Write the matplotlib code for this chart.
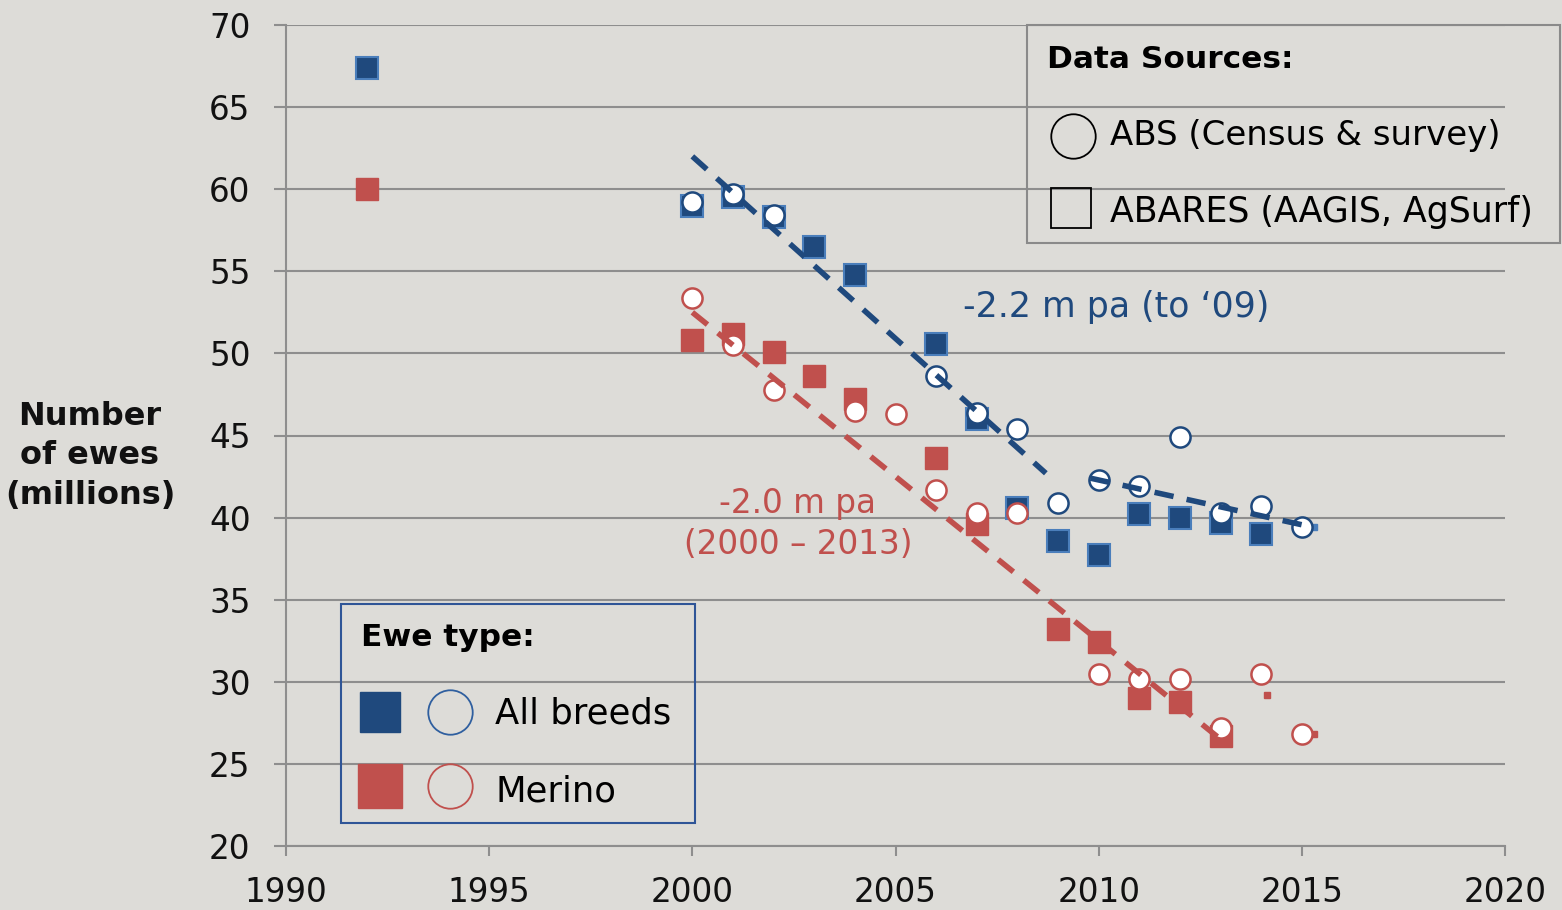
import matplotlib
matplotlib.use("Agg")
from matplotlib import pyplot as plt
from matplotlib.lines import Line2D
import numpy as np

# ABARES (squares)
all_sq_years = [1992, 2000, 2001, 2002, 2003, 2004, 2006, 2007, 2008, 2009, 2010, 2011, 2012, 2013, 2014]
all_sq_vals = [67.4, 59.0, 59.5, 58.3, 56.5, 54.8, 50.6, 46.0, 40.6, 38.6, 37.7, 40.2, 40.0, 39.7, 39.0]
mer_sq_years = [1992, 2000, 2001, 2002, 2003, 2004, 2006, 2007, 2009, 2010, 2011, 2012, 2013]
mer_sq_vals = [60.0, 50.8, 51.2, 50.1, 48.6, 47.2, 43.6, 39.6, 33.2, 32.4, 29.0, 28.8, 26.7]

# ABS (circles)
all_ci_years = [2000, 2001, 2002, 2006, 2007, 2008, 2009, 2010, 2011, 2012, 2013, 2014, 2015]
all_ci_vals = [59.2, 59.7, 58.4, 48.6, 46.4, 45.4, 40.9, 42.3, 41.9, 44.9, 40.3, 40.7, 39.4]
mer_ci_years = [2000, 2001, 2002, 2004, 2005, 2006, 2007, 2008, 2010, 2011, 2012, 2013, 2014, 2015]
mer_ci_vals = [53.4, 50.5, 47.8, 46.5, 46.3, 41.7, 40.3, 40.3, 30.5, 30.2, 30.2, 27.2, 30.5, 26.8]

# small stray markers
tiny_years = [2014.15, 2015.3]
tiny_mer_vals = [29.2, 26.8]
tiny_all_years = [2015.3]
tiny_all_vals = [39.4]

# trend lines
trend_all_a_years = [2000, 2008.7]
trend_all_a_vals = [62.0, 42.7]
trend_all_b_years = [2009.8, 2015.3]
trend_all_b_vals = [42.4, 39.4]
trend_mer_years = [2000, 2013.1]
trend_mer_vals = [52.5, 26.3]

x_ticks = [1990, 1995, 2000, 2005, 2010, 2015, 2020]
y_ticks = [20, 25, 30, 35, 40, 45, 50, 55, 60, 65, 70]

BG = "#dddcd8"
BLUE = "#1f497d"
BLUE_EDGE = "#4a7ebb"
RED = "#c0504d"
GRID = "#8e8e8e"
FONT = "DejaVu Sans"

plt.rcParams['font.family'] = FONT

fig = plt.figure(figsize=(15.62, 9.10), dpi=100, facecolor=BG)
ax = fig.add_axes([286/1562, 1-846/910, (1505-286)/1562, (846-25)/910])
ax.set_facecolor(BG)

ax.set_xlim(1990, 2020)
ax.set_ylim(20, 70)
ax.set_xticks(x_ticks)
ax.set_yticks(y_ticks)
ax.grid(axis='y', color=GRID, lw=1.5, zorder=0)
for s in ['top', 'right']:
    ax.spines[s].set_visible(False)
for s in ['left', 'bottom']:
    ax.spines[s].set_color(GRID)
    ax.spines[s].set_linewidth(1.5)
ax.tick_params(axis='both', colors=GRID, width=1.5, labelsize=23.5, labelcolor='#111111')
ax.tick_params(axis='x', length=7.5, pad=14)
ax.tick_params(axis='y', length=8.5, pad=17)

sq = 16.5
ci = 14.5
ax.plot(all_sq_years, all_sq_vals, 's', ms=sq, mfc=BLUE, mec=BLUE_EDGE, mew=1.5, zorder=3, clip_on=False)
ax.plot(mer_sq_years, mer_sq_vals, 's', ms=sq, mfc=RED, mec=RED, mew=1, zorder=3, clip_on=False)
ax.plot(tiny_years, tiny_mer_vals, 's', ms=4, mfc=RED, mec=RED, zorder=2)
ax.plot(tiny_all_years, tiny_all_vals, 's', ms=4, mfc=BLUE_EDGE, mec=BLUE_EDGE, zorder=2)
ax.plot(all_ci_years, all_ci_vals, 'o', ms=ci, mfc='white', mec=BLUE, mew=1.8, zorder=4)
ax.plot(mer_ci_years, mer_ci_vals, 'o', ms=ci, mfc='white', mec=RED, mew=1.8, zorder=4)

ax.plot(trend_all_a_years, trend_all_a_vals, '--', color=BLUE, lw=4, dashes=(3.5, 2.4), zorder=5)
ax.plot(trend_all_b_years, trend_all_b_vals, '--', color=BLUE, lw=4, dashes=(3.5, 2.4), zorder=5)
ax.plot(trend_mer_years, trend_mer_vals, '--', color=RED, lw=4, dashes=(3.5, 2.4), zorder=5)

ax.text(2010.43, 52.8, "-2.2 m pa (to \u201809)", color=BLUE, fontsize=25, ha='center', va='center')
ax.text(2002.6, 39.6, "-2.0 m pa\n(2000 \u2013 2013)", color=RED, fontsize=23.5, ha='center', va='center',
        linespacing=1.3)

fig.text(90/1562, 1-456/910, "Number\nof ewes\n(millions)", fontsize=23, fontweight='bold',
         ha='center', va='center', linespacing=1.35, color='#111111')

# Data Sources box
fig.patches.append(plt.Rectangle((1027/1562, 1-243/910), (1560-1027)/1562, (243-25)/910,
                                 transform=fig.transFigure, fill=False, ec='#8a8a8a', lw=1.5, zorder=6))
fig.text(1047/1562, 1-60/910, "Data Sources:", fontsize=22.5, fontweight='bold', va='center', ha='left')
fig.lines.append(Line2D([1073/1562], [1-136/910], marker='o', ms=32, mfc='none', mec='black', mew=1.3,
                        transform=fig.transFigure))
fig.text(1110/1562, 1-136/910, "ABS (Census & survey)", fontsize=24.5, va='center', ha='left')
fig.lines.append(Line2D([1071/1562], [1-208/910], marker='s', ms=29, mfc='none', mec='black', mew=1.3,
                        transform=fig.transFigure))
fig.text(1110/1562, 1-212/910, "ABARES (AAGIS, AgSurf)", fontsize=25, va='center', ha='left')

# Ewe type box
fig.patches.append(plt.Rectangle((341/1562, 1-823/910), (695-341)/1562, (823-604)/910,
                                 transform=fig.transFigure, fill=False, ec='#2f5597', lw=1.5, zorder=6))
fig.text(361/1562, 1-637/910, "Ewe type:", fontsize=22.5, fontweight='bold', va='center', ha='left')
fig.lines.append(Line2D([380/1562], [1-712/910], marker='s', ms=29, mfc=BLUE, mec=BLUE,
                        transform=fig.transFigure))
fig.lines.append(Line2D([450/1562], [1-712/910], marker='o', ms=32, mfc='none', mec='#2f5f9f', mew=1.3,
                        transform=fig.transFigure))
fig.text(495/1562, 1-714/910, "All breeds", fontsize=25.5, va='center', ha='left')
fig.lines.append(Line2D([380/1562], [1-786/910], marker='s', ms=32, mfc=RED, mec=RED,
                        transform=fig.transFigure))
fig.lines.append(Line2D([450/1562], [1-786/910], marker='o', ms=32, mfc='none', mec=RED, mew=1.3,
                        transform=fig.transFigure))
fig.text(495/1562, 1-791/910, "Merino", fontsize=25.5, va='center', ha='left')

fig.savefig("out.png", dpi=100, facecolor=BG)
